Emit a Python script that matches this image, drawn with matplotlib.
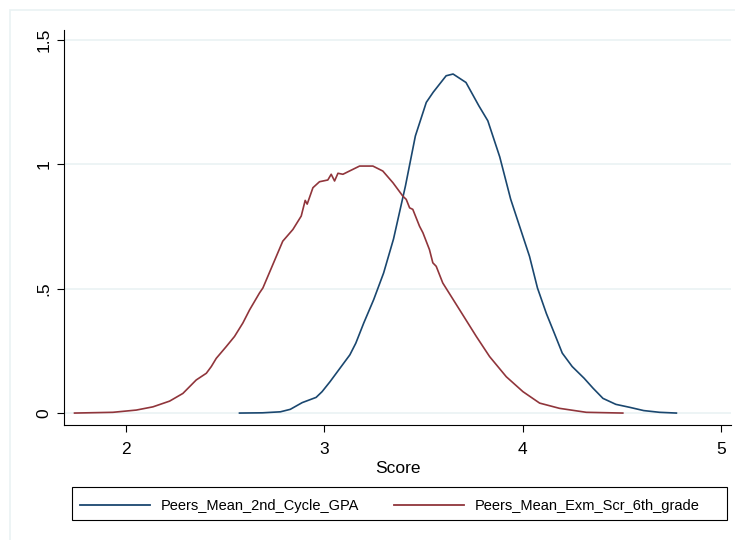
import matplotlib
matplotlib.use("Agg")
import matplotlib.pyplot as plt
from matplotlib.patches import Rectangle
from matplotlib.lines import Line2D

plt.rcParams['font.family'] = ['Liberation Sans', 'DejaVu Sans']

# Data (kernel density curves)
gpa_x = [2.574, 2.69, 2.78, 2.83, 2.89, 2.96, 2.99, 3.03, 3.08, 3.13, 3.16, 3.20,
         3.25, 3.30, 3.35, 3.41, 3.46, 3.515, 3.55, 3.615, 3.65, 3.715, 3.78,
         3.825, 3.885, 3.94, 3.985, 4.035, 4.075, 4.12, 4.16, 4.20, 4.25, 4.31,
         4.355, 4.405, 4.47, 4.54, 4.61, 4.69, 4.775]
gpa_y = [0, 0.001, 0.005, 0.015, 0.042, 0.063, 0.086, 0.126, 0.18, 0.234, 0.281,
         0.362, 0.456, 0.563, 0.70, 0.913, 1.114, 1.249, 1.29, 1.356, 1.363,
         1.329, 1.235, 1.175, 1.03, 0.86, 0.751, 0.63, 0.503, 0.40, 0.321, 0.241,
         0.187, 0.14, 0.10, 0.059, 0.035, 0.023, 0.01, 0.003, 0]

exm_x = [1.743, 1.936, 2.054, 2.138, 2.222, 2.289, 2.356, 2.407, 2.432, 2.457,
         2.507, 2.549, 2.591, 2.625, 2.675, 2.692, 2.742, 2.792, 2.843, 2.885,
         2.905, 2.915, 2.944, 2.977, 3.019, 3.036, 3.053, 3.07, 3.095, 3.128,
         3.179, 3.246, 3.296, 3.347, 3.397, 3.414, 3.431, 3.447, 3.481, 3.498,
         3.531, 3.548, 3.565, 3.598, 3.683, 3.767, 3.834, 3.918, 4.002, 4.086,
         4.186, 4.321, 4.505]
exm_y = [0, 0.003, 0.012, 0.025, 0.048, 0.079, 0.133, 0.16, 0.187, 0.22, 0.267,
         0.308, 0.362, 0.415, 0.483, 0.503, 0.597, 0.691, 0.738, 0.792, 0.855,
         0.84, 0.906, 0.93, 0.937, 0.96, 0.933, 0.964, 0.96, 0.973, 0.993, 0.993,
         0.973, 0.926, 0.872, 0.859, 0.825, 0.819, 0.751, 0.725, 0.657, 0.604,
         0.59, 0.523, 0.415, 0.308, 0.227, 0.146, 0.086, 0.04, 0.019, 0.003, 0]

labels = ["Peers_Mean_2nd_Cycle_GPA", "Peers_Mean_Exm_Scr_6th_grade"]
x_ticks = [2, 3, 4, 5]
y_ticks = [0, 0.5, 1, 1.5]
y_tick_labels = ["0", ".5", "1", "1.5"]

blue = "#1a476f"
red = "#90353b"
grid_c = "#eaf2f3"

W, H = 735, 540
fig = plt.figure(figsize=(W / 100, H / 100), dpi=100)
fig.patch.set_facecolor("white")

# faint outer frame (only left/top edges visible)
fig.add_artist(Rectangle((10 / W, -0.1), 1.2, 1.1 - 10 / H, transform=fig.transFigure,
                         fill=False, edgecolor=grid_c, linewidth=1.2, clip_on=False))

left, right, top, bottom = 64, 731, 30, 425
ax = fig.add_axes([left / W, 1 - bottom / H, (right - left) / W, (bottom - top) / H])

ax.plot(gpa_x, gpa_y, color=blue, linewidth=1.2)
ax.plot(exm_x, exm_y, color=red, linewidth=1.2)

ax.set_xlim(1.69, 5.05)
ax.set_ylim(-0.048, 1.54)

ax.set_xticks(x_ticks)
ax.set_yticks(y_ticks)
ax.set_yticklabels(y_tick_labels, rotation=90, va="center")
ax.tick_params(axis="both", direction="out", length=5, width=0.8, labelsize=12.5,
               colors="black")
ax.tick_params(axis="y", pad=4)
ax.tick_params(axis="x", pad=7)

for s in ["top", "right"]:
    ax.spines[s].set_visible(False)
for s in ["left", "bottom"]:
    ax.spines[s].set_linewidth(0.8)
    ax.spines[s].set_color("black")

ax.grid(axis="y", color=grid_c, linewidth=1.2)
ax.set_axisbelow(True)

ax.set_xlabel("Score", fontsize=12.5, labelpad=3)

# legend frame
fig.add_artist(Rectangle((72 / W, 1 - 520 / H), (727 - 72) / W, 33 / H,
                         transform=fig.transFigure, fill=False,
                         edgecolor="black", linewidth=0.8))
handles = [Line2D([], [], color=blue, linewidth=1.3),
           Line2D([], [], color=red, linewidth=1.3)]
fig.legend(handles, labels, loc="center left",
           bbox_to_anchor=(80 / W, 1 - 506 / H),
           ncol=2, fontsize=10.5, handlelength=4.8,
           handletextpad=0.75, columnspacing=2.4, frameon=False,
           borderpad=0, borderaxespad=0)

fig.savefig("out.png", dpi=100, facecolor="white")
